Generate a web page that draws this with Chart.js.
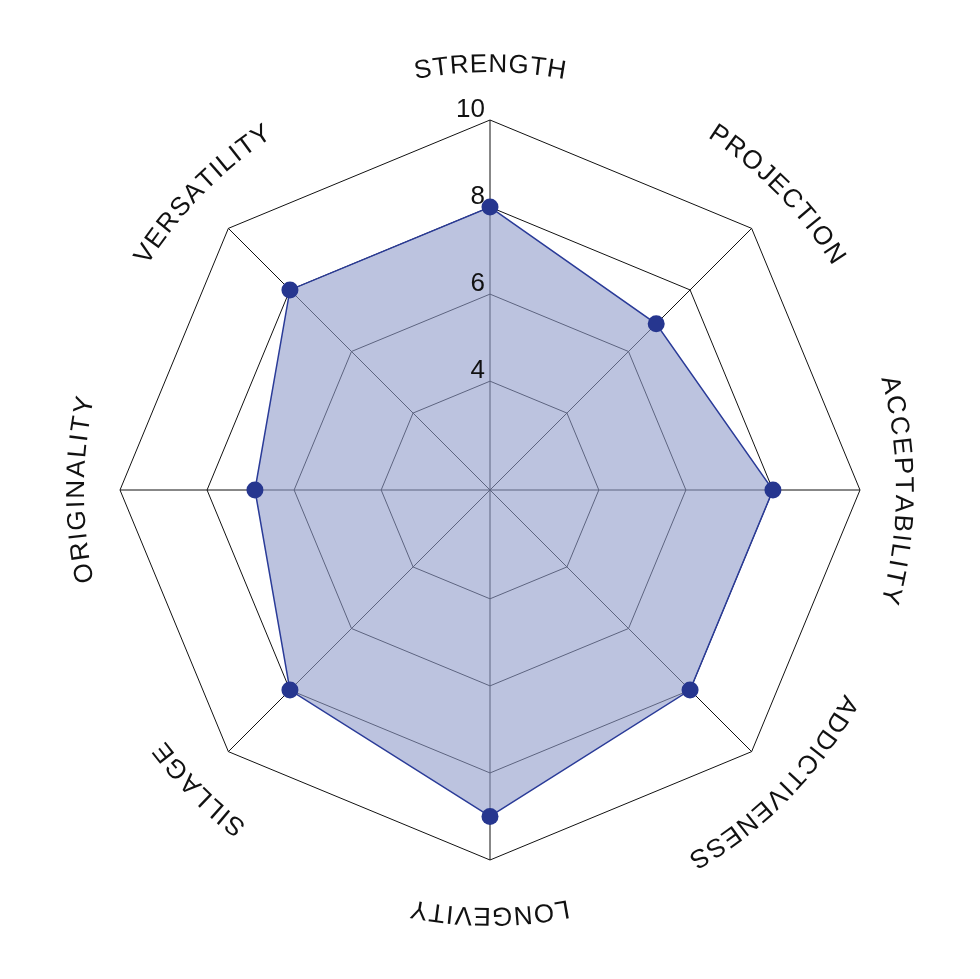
<!DOCTYPE html>
<html>
<head>
<meta charset="utf-8">
<script src="https://cdn.jsdelivr.net/npm/chart.js@4.4.1/dist/chart.umd.min.js"></script>
<style>
  html, body { margin: 0; padding: 0; background: #fff; }
  #wrap { width: 980px; height: 979px; }
</style>
</head>
<body>
<div id="wrap"><canvas id="radarChart"></canvas></div>
<script>
// Data
const categories = ['STRENGTH', 'PROJECTION', 'ACCEPTABILITY', 'ADDICTIVENESS', 'LONGEVITY', 'SILLAGE', 'ORIGINALITY', 'VERSATILITY'];
const scores = [8, 6.9, 8, 8, 9, 8, 6.9, 8];
const tickValues = [4, 6, 8, 10];
const scaleMin = 1.5;
const scaleMax = 10;

// Curved category labels + tick numbers
const radarText = {
  id: 'radarText',
  afterDraw(chart) {
    const scale = chart.scales.r;
    const ctx = chart.ctx;
    // labels sit on a slightly taller-than-wide ring around the chart
    const rx = scale.drawingArea + 36;
    const ry = scale.drawingArea + 48;
    const spacing = 1.5;

    ctx.save();
    ctx.fillStyle = '#111';
    ctx.font = '26px "Liberation Sans", Arial, sans-serif';
    ctx.textAlign = 'center';
    ctx.textBaseline = 'alphabetic';

    chart.data.labels.forEach((label, i) => {
      const chars = label.split('');
      const widths = chars.map(c => ctx.measureText(c).width);
      const total = widths.reduce((a, b) => a + b, 0) + spacing * (chars.length - 1);
      const mid = scale.getIndexAngle(i) - Math.PI / 2;
      const r = 1 / Math.sqrt(Math.pow(Math.cos(mid) / rx, 2) + Math.pow(Math.sin(mid) / ry, 2));
      let a = mid - total / r / 2;
      chars.forEach((c, k) => {
        const ang = a + widths[k] / 2 / r;
        ctx.save();
        ctx.translate(scale.xCenter + rx * Math.cos(ang), scale.yCenter + ry * Math.sin(ang));
        ctx.rotate(ang + Math.PI / 2);
        ctx.fillText(c, 0, 0);
        ctx.restore();
        a += (widths[k] + spacing) / r;
      });
    });

    // tick numbers left of the top axis
    ctx.font = '26px "Liberation Sans", Arial, sans-serif';
    ctx.textAlign = 'right';
    ctx.textBaseline = 'middle';
    tickValues.forEach(v => {
      const p = scale.getPointPositionForValue(0, v);
      ctx.fillText(String(v), p.x - 5, p.y - 10);
    });
    ctx.restore();
  }
};

const ctx = document.getElementById('radarChart').getContext('2d');
const radarChart = new Chart(ctx, {
  type: 'radar',
  data: {
    labels: categories,
    datasets: [{
      data: scores,
      fill: true,
      backgroundColor: 'rgba(143, 155, 202, 0.6)',
      borderColor: '#2a3b98',
      borderWidth: 1.5,
      pointBackgroundColor: '#26368f',
      pointBorderColor: '#26368f',
      pointBorderWidth: 0,
      pointRadius: 8.5
    }]
  },
  options: {
    responsive: true,
    maintainAspectRatio: false,
    animation: false,
    layout: { padding: { top: 120, left: 120, right: 120, bottom: 119 } },
    plugins: {
      legend: { display: false },
      tooltip: { enabled: false }
    },
    scales: {
      r: {
        min: scaleMin,
        max: scaleMax,
        afterBuildTicks: s => {
          s.ticks = [scaleMin].concat(tickValues).map(v => ({ value: v }));
        },
        ticks: { display: false },
        pointLabels: { display: false },
        grid: { color: '#111', lineWidth: 1 },
        angleLines: { color: '#111', lineWidth: 1 }
      }
    }
  },
  plugins: [radarText]
});
</script>
</body>
</html>
